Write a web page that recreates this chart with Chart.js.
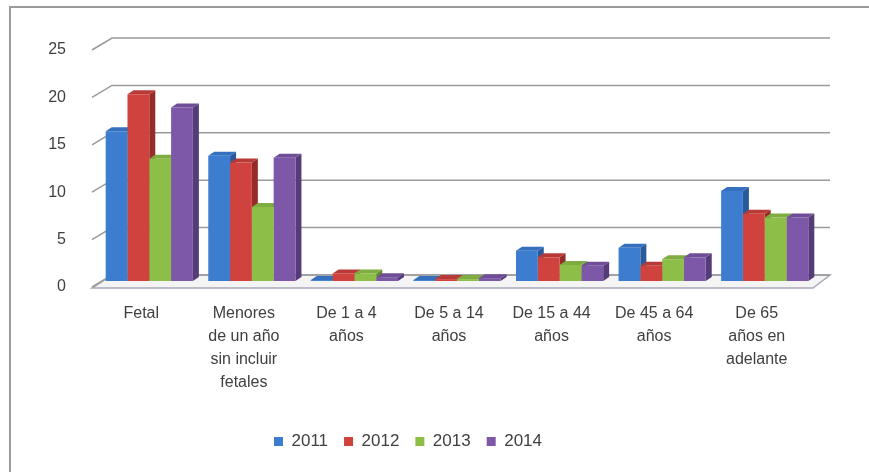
<!DOCTYPE html>
<html>
<head>
<meta charset="utf-8">
<script src="https://cdn.jsdelivr.net/npm/chart.js@4.4.0/dist/chart.umd.min.js"></script>
<style>
  html, body { margin: 0; padding: 0; background: #fff; }
  #wrap { position: relative; width: 869px; height: 472px; }
  #frame { position: absolute; left: 9px; top: 6px; right: 0; bottom: 0; border-left: 2px solid #9a9a9a; border-top: 2px solid #9a9a9a; }
  canvas { position: absolute; left: 0; top: 0; }
</style>
</head>
<body>
<div id="wrap">
  <div id="frame"></div>
  <canvas id="grafico" width="869" height="472"></canvas>
</div>
<script>
// datos
const categorias = [
    "Fetal",
    ["Menores", "de un año", "sin incluir", "fetales"],
    ["De 1 a 4", "años"],
    ["De 5 a 14", "años"],
    ["De 15 a 44", "años"],
    ["De 45 a 64", "años"],
    ["De 65", "años en", "adelante"],
];
const anios = ["2011", "2012", "2013", "2014"];
const v2011 = [15.8, 13.2, 0.1, 0.1, 3.2, 3.5, 9.5];
const v2012 = [19.7, 12.5, 0.8, 0.2, 2.5, 1.6, 7.1];
const v2013 = [12.9, 7.8, 0.8, 0.2, 1.7, 2.3, 6.7];
const v2014 = [18.3, 13.0, 0.4, 0.3, 1.6, 2.5, 6.7];
const ticksY = [0, 5, 10, 15, 20, 25];

const colores = ["#3c7dd0", "#cf423d", "#8dbf48", "#7d58a8"];
const lados = ["#2a5a99", "#952c29", "#628a2f", "#553b78"];
const techos = ["#3470bd", "#b83a36", "#7eac40", "#6f4e97"];

const fuente = "'Liberation Sans', Arial, sans-serif";

// efecto 3D: paredes, piso y profundidad de barras
const tresD = {
    id: "tresD",
    beforeDatasetsDraw(chart) {
        const ctx = chart.ctx;
        const y = chart.scales.y;
        const a = chart.chartArea;
        const xf = a.left - 6, xb = a.left + 14, xr = a.right + 14, xfr = a.right - 3;
        ctx.save();
        // piso
        const y0 = y.getPixelForValue(0);
        ctx.beginPath();
        ctx.moveTo(xf, y0 + 7);
        ctx.lineTo(xfr, y0 + 7);
        ctx.lineTo(xr, y0 - 6);
        ctx.lineTo(xb, y0 - 6);
        ctx.closePath();
        ctx.fillStyle = "#f4f4f4";
        ctx.fill();
        ctx.strokeStyle = "#a8a8b8";
        ctx.lineWidth = 1.5;
        ctx.stroke();
        // lineas de la pared
        ctx.strokeStyle = "#9a9a9a";
        ctx.lineWidth = 1.5;
        ticksY.forEach(function (v) {
            const py = y.getPixelForValue(v);
            ctx.beginPath();
            ctx.moveTo(xf, py + 6);
            ctx.lineTo(xb, py - 6);
            ctx.lineTo(xr, py - 6);
            ctx.stroke();
        });
        // caras laterales y superiores
        const dx = 6, dy = 4;
        chart.data.datasets.forEach(function (ds, i) {
            const meta = chart.getDatasetMeta(i);
            meta.data.forEach(function (bar) {
                const l = bar.x - bar.width / 2, r = bar.x + bar.width / 2;
                const t = bar.y, b = bar.base;
                ctx.fillStyle = lados[i];
                ctx.beginPath();
                ctx.moveTo(r, t);
                ctx.lineTo(r + dx, t - dy);
                ctx.lineTo(r + dx, b - dy);
                ctx.lineTo(r, b);
                ctx.closePath();
                ctx.fill();
                ctx.fillStyle = techos[i];
                ctx.beginPath();
                ctx.moveTo(l, t);
                ctx.lineTo(l + dx, t - dy);
                ctx.lineTo(r + dx, t - dy);
                ctx.lineTo(r, t);
                ctx.closePath();
                ctx.fill();
            });
        });
        ctx.restore();
    },
};

const series = [v2011, v2012, v2013, v2014];

new Chart(document.getElementById("grafico"), {
    type: "bar",
    data: {
        labels: categorias,
        datasets: anios.map(function (a, i) {
            return {
                label: a,
                data: series[i],
                backgroundColor: colores[i],
                borderWidth: 0,
                categoryPercentage: 0.85,
                barPercentage: 1.0,
            };
        }),
    },
    options: {
        responsive: false,
        animation: false,
        layout: { padding: { left: 0, right: 53, top: 44, bottom: 12 } },
        scales: {
            x: {
                grid: { display: false },
                border: { display: false },
                afterFit: function (s) { s.height = 136; },
                ticks: {
                    font: { family: fuente, size: 16, lineHeight: 1.44 },
                    color: "#404040",
                    padding: 13,
                    labelOffset: -8,
                    maxRotation: 0,
                    autoSkip: false,
                },
            },
            y: {
                min: 0,
                max: 25,
                grid: { display: false },
                border: { display: false },
                afterFit: function (s) { s.width = 98; },
                afterBuildTicks: function (s) {
                    s.ticks = ticksY.map(function (v) { return { value: v }; });
                },
                ticks: {
                    font: { family: fuente, size: 16 },
                    color: "#404040",
                    padding: 24,
                    labelOffset: 6,
                },
            },
        },
        plugins: {
            legend: {
                position: "bottom",
                labels: {
                    font: { family: fuente, size: 17 },
                    color: "#404040",
                    boxWidth: 9,
                    boxHeight: 9,
                    padding: 16,
                },
            },
            tooltip: { enabled: false },
        },
    },
    plugins: [tresD],
});
</script>
</body>
</html>
